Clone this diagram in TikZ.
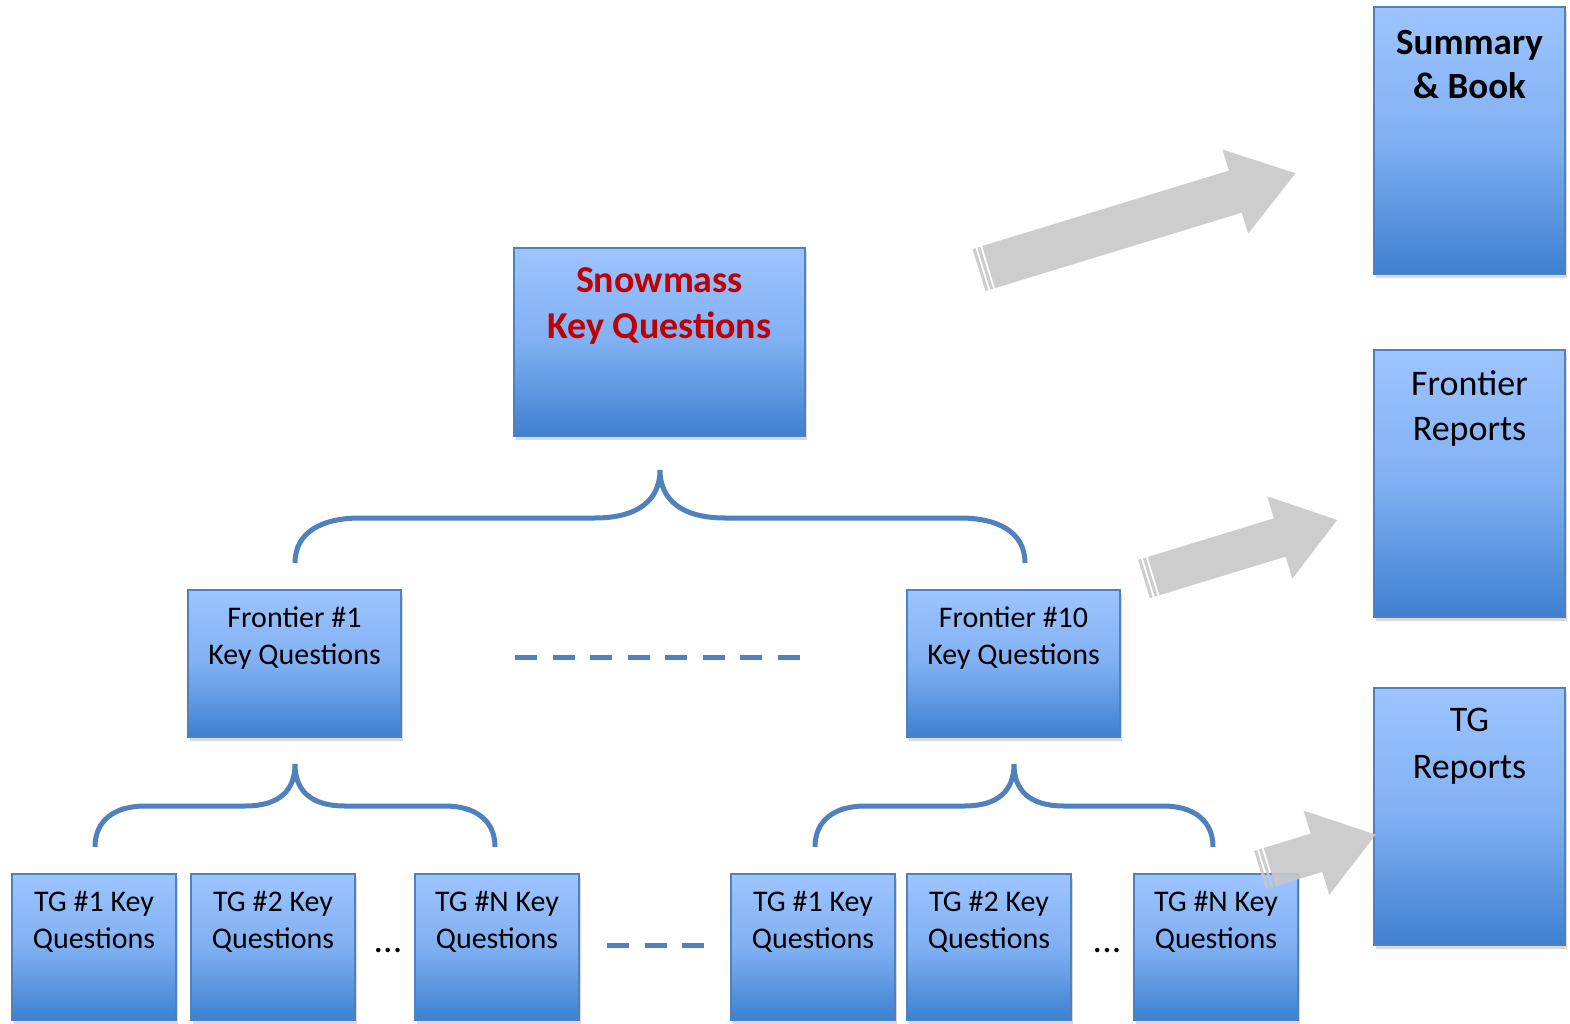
\documentclass[tikz,border=0pt]{standalone}
\usepackage{fontspec}
\setmainfont{Carlito}
\usetikzlibrary{shadows}
\definecolor{boxline}{RGB}{79,129,189}
\definecolor{boxtop}{RGB}{157,196,255}
\definecolor{boxmid}{RGB}{128,176,243}
\definecolor{boxbot}{RGB}{62,128,208}
\definecolor{keyred}{RGB}{192,0,0}
\definecolor{arrowgray}{RGB}{200,200,200}
\tikzset{
  bluebox/.style={rectangle, draw=boxline, line width=2.5pt, top color=boxtop, bottom color=boxbot, middle color=boxmid,
    drop shadow={shadow xshift=2pt, shadow yshift=-4pt, opacity=0.3}, inner sep=0pt},
  bigbox/.style={bluebox, minimum width=191pt, minimum height=267pt},
  tgbox/.style={bluebox, minimum width=164pt, minimum height=146pt},
  frbox/.style={bluebox, minimum width=213pt, minimum height=147pt},
  bigtxt/.style={align=center, font=\fontsize{36}{45}\selectfont, inner sep=0pt},
  smalltxt/.style={align=center, font=\fontsize{30}{37.5}\selectfont, inner sep=0pt},
  dotstxt/.style={font=\fontsize{30}{37.5}\selectfont\bfseries, inner sep=0pt},
  bracepath/.style={draw=boxline, line width=5pt},
  dashline/.style={draw=boxline, line width=5pt, dash pattern=on 22pt off 15.5pt},
}
\newcommand{\grayarrow}[7]{%
  \begin{scope}[shift={(#1,#2)}, rotate=#3, opacity=0.9]
    \fill[arrowgray] (0,-#5) rectangle (3,#5);
    \fill[arrowgray] (5,-#5) rectangle (8,#5);
    \fill[arrowgray] (10,-#5) -- (#4-#7,-#5) -- (#4-#7,-#6) -- (#4,0) -- (#4-#7,#6) -- (#4-#7,#5) -- (10,#5) -- cycle;
  \end{scope}}
\begin{document}
\begin{tikzpicture}[x=1pt,y=-1pt]
\useasboundingbox (0,0) rectangle (1570,1024);

% right column
\node[bigbox] (sum) at (1469.5,140.5) {};
\node[bigbox] (frep) at (1469.5,483.5) {};
\node[bluebox, minimum width=191pt, minimum height=257pt] (tgrep) at (1469.5,816.5) {};
\node[bigtxt, font=\fontsize{37}{44}\selectfont\bfseries] (sumtxt) at (1469.5,65) {Summary\\\& Book};
\node[bigtxt] (freptxt) at (1469.5,408) {Frontier\\Reports};
\node[bigtxt, font=\fontsize{36}{47}\selectfont] (tgreptxt) at (1469.5,746) {TG\\Reports};

% top
\node[bluebox, minimum width=291pt, minimum height=188pt] (snow) at (659.5,342) {};
\node[bigtxt, font=\fontsize{38}{46}\selectfont\bfseries, text=keyred] (snowtxt) at (659.5,306) {Snowmass\\Key Questions};

% frontier
\node[frbox] (f1) at (294.5,663.5) {};
\node[frbox] (f10) at (1013.5,663.5) {};
\node[smalltxt] (f1txt) at (294.5,638) {Frontier \#1\\Key Questions};
\node[smalltxt] (f10txt) at (1013.5,638) {Frontier \#10\\Key Questions};

% TG boxes
\node[tgbox] (t1) at (94,947) {};
\node[tgbox] (t2) at (273,947) {};
\node[tgbox] (t3) at (497,947) {};
\node[tgbox] (t4) at (813,947) {};
\node[tgbox] (t5) at (989,947) {};
\node[tgbox] (t6) at (1216,947) {};
\node[smalltxt] (t1txt) at (94,922) {TG \#1 Key\\Questions};
\node[smalltxt] (t2txt) at (273,922) {TG \#2 Key\\Questions};
\node[smalltxt] (t3txt) at (497,922) {TG \#N Key\\Questions};
\node[smalltxt] (t4txt) at (813,922) {TG \#1 Key\\Questions};
\node[smalltxt] (t5txt) at (989,922) {TG \#2 Key\\Questions};
\node[smalltxt] (t6txt) at (1216,922) {TG \#N Key\\Questions};
\node[dotstxt] (dots1) at (388,950) {.\kern1.5pt.\kern1.5pt.};
\node[dotstxt] (dots2) at (1107,950) {.\kern1.5pt.\kern1.5pt.};

% dashed lines
\coordinate (da) at (515,657); \coordinate (db) at (800,657);
\draw[dashline] (da) -- (db);
\coordinate (dc) at (607,945); \coordinate (dd) at (704,945);
\draw[dashline] (dc) -- (dd);

% braces
\coordinate (btip) at (660,470);
\draw[bracepath] (295,563) .. controls (295,532) and (322,518) .. (360,518) -- (595,518)
  .. controls (638,518) and (660,500) .. (btip)
  .. controls (660,500) and (682,518) .. (725,518) -- (960,518)
  .. controls (998,518) and (1025,532) .. (1025,563);
\coordinate (ltip) at (295,764);
\draw[bracepath] (95,847) .. controls (95,820) and (115,806) .. (145,806) -- (245,806)
  .. controls (280,806) and (295,790) .. (ltip)
  .. controls (295,790) and (310,806) .. (345,806) -- (445,806)
  .. controls (475,806) and (495,820) .. (495,847);
\coordinate (rtip) at (1014,764);
\draw[bracepath] (815,847) .. controls (815,820) and (835,806) .. (865,806) -- (964,806)
  .. controls (999,806) and (1014,790) .. (rtip)
  .. controls (1014,790) and (1029,806) .. (1064,806) -- (1163,806)
  .. controls (1193,806) and (1213,820) .. (1213,847);

% gray arrows
\grayarrow{979}{270}{17}{331}{22}{44}{63}
\grayarrow{1144}{579}{17}{202}{20}{43}{60}
\grayarrow{1260}{870}{17}{121}{20}{44}{62}
\end{tikzpicture}
\end{document}
